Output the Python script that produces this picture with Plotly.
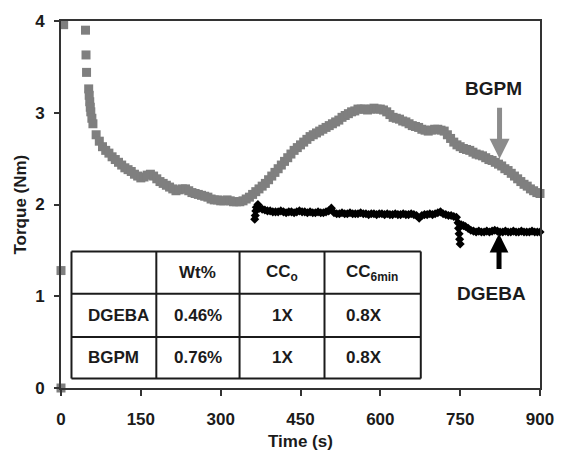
import plotly.graph_objects as go

# ---- BGPM torque trace (gray squares) ----
bgpm_start_time = [0, 0, 5, 46, 47, 48, 52, 53, 54, 55, 56, 58]
bgpm_start_torque = [0.0, 1.28, 3.96, 3.90, 3.63, 3.44, 3.26, 3.19, 3.12, 3.06, 3.01, 2.94]

bgpm_time = list(range(60, 901, 6))
bgpm_torque = [
    2.88, 2.76, 2.69, 2.63, 2.59, 2.56, 2.52, 2.49, 2.46, 2.43,
    2.40, 2.38, 2.36, 2.33, 2.31, 2.29, 2.30, 2.32, 2.33, 2.31,
    2.28, 2.25, 2.23, 2.21, 2.19, 2.17, 2.15, 2.16, 2.17, 2.17,
    2.15, 2.13, 2.12, 2.11, 2.10, 2.09, 2.08, 2.06, 2.05, 2.05,
    2.04, 2.04, 2.05, 2.04, 2.03, 2.03, 2.03, 2.04, 2.06, 2.08,
    2.11, 2.14, 2.17, 2.20, 2.23, 2.27, 2.31, 2.35, 2.39, 2.43,
    2.47, 2.51, 2.55, 2.59, 2.62, 2.65, 2.68, 2.71, 2.74, 2.76,
    2.78, 2.80, 2.82, 2.84, 2.86, 2.88, 2.90, 2.92, 2.95, 2.97,
    2.99, 3.01, 3.02, 3.04, 3.04, 3.04, 3.03, 3.04, 3.05, 3.04,
    3.04, 3.03, 3.01, 2.98, 2.95, 2.94, 2.93, 2.91, 2.90, 2.88,
    2.86, 2.85, 2.84, 2.82, 2.81, 2.80, 2.81, 2.82, 2.82, 2.81,
    2.80, 2.76, 2.72, 2.68, 2.65, 2.63, 2.61, 2.60, 2.59, 2.57,
    2.55, 2.54, 2.53, 2.51, 2.49, 2.48, 2.46, 2.44, 2.42, 2.39,
    2.37, 2.34, 2.31, 2.28, 2.25, 2.22, 2.20, 2.17, 2.15, 2.13,
    2.12,
]
assert len(bgpm_time) == len(bgpm_torque), (len(bgpm_time), len(bgpm_torque))

# ---- DGEBA torque trace (black diamonds) ----
dgeba_start_time = [364, 365, 366, 367, 370]
dgeba_start_torque = [1.84, 1.88, 1.93, 1.97, 2.00]

dgeba_mid_time = list(range(373, 744, 5))
dgeba_mid_torque = [
    1.96, 1.95, 1.94, 1.93, 1.93, 1.92, 1.92, 1.92, 1.93, 1.92,
    1.91, 1.92, 1.92, 1.91, 1.92, 1.93, 1.92, 1.92, 1.91, 1.92,
    1.91, 1.91, 1.92, 1.91, 1.91, 1.92, 1.93, 1.96, 1.91, 1.90,
    1.90, 1.91, 1.90, 1.90, 1.91, 1.90, 1.90, 1.90, 1.91, 1.90,
    1.90, 1.89, 1.90, 1.90, 1.89, 1.90, 1.90, 1.89, 1.90, 1.89,
    1.89, 1.90, 1.89, 1.89, 1.90, 1.89, 1.89, 1.90, 1.89, 1.88,
    1.85, 1.88, 1.89, 1.89, 1.90, 1.89, 1.90, 1.91, 1.92, 1.90,
    1.89, 1.88, 1.88, 1.87, 1.86,
]
assert len(dgeba_mid_time) == len(dgeba_mid_torque), (len(dgeba_mid_time), len(dgeba_mid_torque))

dgeba_step_time = [746, 747, 748, 749, 750, 752, 756, 760, 765, 770]
dgeba_step_torque = [1.80, 1.74, 1.68, 1.62, 1.57, 1.78, 1.77, 1.76, 1.74, 1.72]

dgeba_end_time = list(range(775, 901, 5))
dgeba_end_torque = [
    1.71, 1.70, 1.71, 1.70, 1.70, 1.71, 1.70, 1.71, 1.72, 1.71,
    1.70, 1.70, 1.71, 1.70, 1.70, 1.71, 1.70, 1.70, 1.71, 1.70,
    1.70, 1.70, 1.71, 1.70, 1.70, 1.70,
]
assert len(dgeba_end_time) == len(dgeba_end_torque), (len(dgeba_end_time), len(dgeba_end_torque))

# ---- axis ticks ----
x_ticks = [0, 150, 300, 450, 600, 750, 900]
y_ticks = [0, 1, 2, 3, 4]

# ---- inset table ----
table_header = ["", "Wt%", "CC<sub>o</sub>", "CC<sub>6min</sub>"]
table_rows = [
    ["DGEBA", "0.46%", "1X", "0.8X"],
    ["BGPM", "0.76%", "1X", "0.8X"],
]
table_col_edges = [19.7, 179.1, 335.5, 495.1, 676.0]
table_row_edges = [1.488, 1.027, 0.556, 0.103]

FONT = "Liberation Sans, Arial, sans-serif"
INK = "#1b1b1b"
GRAY = "#7f7f7f"

fig = go.Figure()

fig.add_trace(go.Scatter(
    x=bgpm_start_time + bgpm_time,
    y=bgpm_start_torque + bgpm_torque,
    mode="markers",
    marker=dict(symbol="square", size=9, color=GRAY, line=dict(width=0)),
    cliponaxis=False,
    name="BGPM",
))
fig.add_trace(go.Scatter(
    x=dgeba_start_time + dgeba_mid_time + dgeba_step_time + dgeba_end_time,
    y=dgeba_start_torque + dgeba_mid_torque + dgeba_step_torque + dgeba_end_torque,
    mode="markers",
    marker=dict(symbol="diamond", size=7, color="#000000", line=dict(width=0)),
    cliponaxis=False,
    name="DGEBA",
))

# table grid
shapes = []
x0, x1 = table_col_edges[0], table_col_edges[-1]
y0, y1 = table_row_edges[-1], table_row_edges[0]
for yv in table_row_edges:
    shapes.append(dict(type="line", xref="x", yref="y", x0=x0, x1=x1, y0=yv, y1=yv,
                       line=dict(color=INK, width=2)))
for xv in table_col_edges:
    shapes.append(dict(type="line", xref="x", yref="y", x0=xv, x1=xv, y0=y0, y1=y1,
                       line=dict(color=INK, width=2)))

annotations = []
all_rows = [table_header] + table_rows
for r, row in enumerate(all_rows):
    yc = (table_row_edges[r] + table_row_edges[r + 1]) / 2
    for c, txt in enumerate(row):
        if not txt:
            continue
        if c == 0:
            xa, xanchor = table_col_edges[0] + 27, "left"
        elif c == 3:
            xa, xanchor = table_col_edges[3] + 37, "left"
        else:
            xa, xanchor = (table_col_edges[c] + table_col_edges[c + 1]) / 2, "center"
        annotations.append(dict(
            x=xa, y=yc, xref="x", yref="y", text=f"<b>{txt}</b>", showarrow=False,
            xanchor=xanchor, yanchor="middle",
            font=dict(family=FONT, size=17, color=INK),
        ))

# series labels with arrows
annotations += [
    dict(x=813, y=3.26, xref="x", yref="y", text="<b>BGPM</b>", showarrow=False,
         font=dict(family=FONT, size=19, color=INK)),
    dict(x=824, y=2.50, ax=824, ay=3.07, xref="x", yref="y", axref="x", ayref="y",
         text="", showarrow=True, arrowhead=2, arrowsize=0.8, arrowwidth=5,
         arrowcolor="#8c8c8c"),
    dict(x=808, y=1.03, xref="x", yref="y", text="<b>DGEBA</b>", showarrow=False,
         font=dict(family=FONT, size=19, color=INK)),
    dict(x=823, y=1.68, ax=823, ay=1.28, xref="x", yref="y", axref="x", ayref="y",
         text="", showarrow=True, arrowhead=2, arrowsize=0.75, arrowwidth=5,
         arrowcolor="#000000"),
    # axis titles
    dict(x=0, y=0.5, xref="paper", yref="paper", xshift=-41, text="<b>Torque (Nm)</b>",
         showarrow=False, textangle=-90, xanchor="center", yanchor="middle",
         font=dict(family=FONT, size=17, color=INK)),
    dict(x=0.5, y=0, xref="paper", yref="paper", yshift=-53, text="<b>Time (s)</b>",
         showarrow=False, xanchor="center", yanchor="middle",
         font=dict(family=FONT, size=17, color=INK)),
]

axis_common = dict(
    showgrid=False, zeroline=False, showline=True, linecolor="#333333", linewidth=2,
    mirror=True, ticks="outside", tickwidth=2, tickcolor="#333333",
    tickfont=dict(family=FONT, size=17, color=INK),
)

fig.update_layout(
    width=566, height=450,
    margin=dict(l=61, r=16, t=19, b=62),
    paper_bgcolor="white", plot_bgcolor="white",
    showlegend=False,
    shapes=shapes,
    annotations=annotations,
    xaxis=dict(range=[0, 900], tickvals=x_ticks, ticktext=[f"<b>{v}</b>" for v in x_ticks],
               ticklen=6, ticklabelstandoff=9, **axis_common),
    yaxis=dict(range=[0, 4], tickvals=y_ticks, ticktext=[f"<b>{v}</b>" for v in y_ticks],
               ticklen=5, ticklabelstandoff=6, **axis_common),
)

fig.write_html("out.html")
